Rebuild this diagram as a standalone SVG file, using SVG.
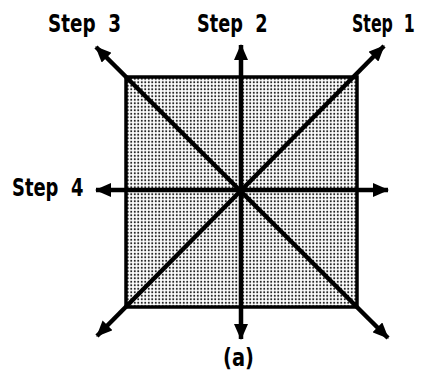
<svg xmlns="http://www.w3.org/2000/svg" width="422" height="372" viewBox="0 0 422 372">
<style>
.lbl{font-family:"Liberation Sans Narrow","DejaVu Sans Condensed","Liberation Sans",sans-serif;font-weight:bold;font-size:24px;fill:#000}
.ax{stroke:#000;stroke-width:4.5;fill:none;marker-start:url(#ah);marker-end:url(#ah)}
</style>
<defs>
<pattern id="dots" width="3.5" height="3.5" patternUnits="userSpaceOnUse">
<rect width="3.5" height="3.5" fill="#fff"/>
<circle cx="1.75" cy="1.75" r="1.05" fill="#222"/>
</pattern>
<marker id="ah" viewBox="0 0 16 14" refX="15" refY="7" markerWidth="16" markerHeight="14" markerUnits="userSpaceOnUse" orient="auto-start-reverse">
<path d="M0,0 L16,7 L0,14 Z" fill="#000"/>
</marker>
</defs>
<g id="square">
<rect x="126" y="77" width="231" height="230" fill="url(#dots)" stroke="#000" stroke-width="3.5"/>
</g>
<g id="connectors">
<line class="ax" x1="96" y1="190" x2="388" y2="190"/>
<line class="ax" x1="241" y1="339" x2="241" y2="45"/>
<line class="ax" x1="96" y1="47" x2="388" y2="338"/>
<line class="ax" x1="97" y1="336" x2="384" y2="46"/>
</g>
<g id="step3"><text class="lbl" transform="translate(48,32) scale(0.85,1)" xml:space="preserve">Step  3</text></g>
<g id="step2"><text class="lbl" transform="translate(197,32) scale(0.82,1)" xml:space="preserve">Step  2</text></g>
<g id="step1"><text class="lbl" transform="translate(352,32) scale(0.73,1)" xml:space="preserve">Step  1</text></g>
<g id="step4"><text class="lbl" transform="translate(12,196) scale(0.83,1)" xml:space="preserve">Step  4</text></g>
<g id="caption"><text class="lbl" transform="translate(223,366) scale(0.9,1)">(a)</text></g>
</svg>
